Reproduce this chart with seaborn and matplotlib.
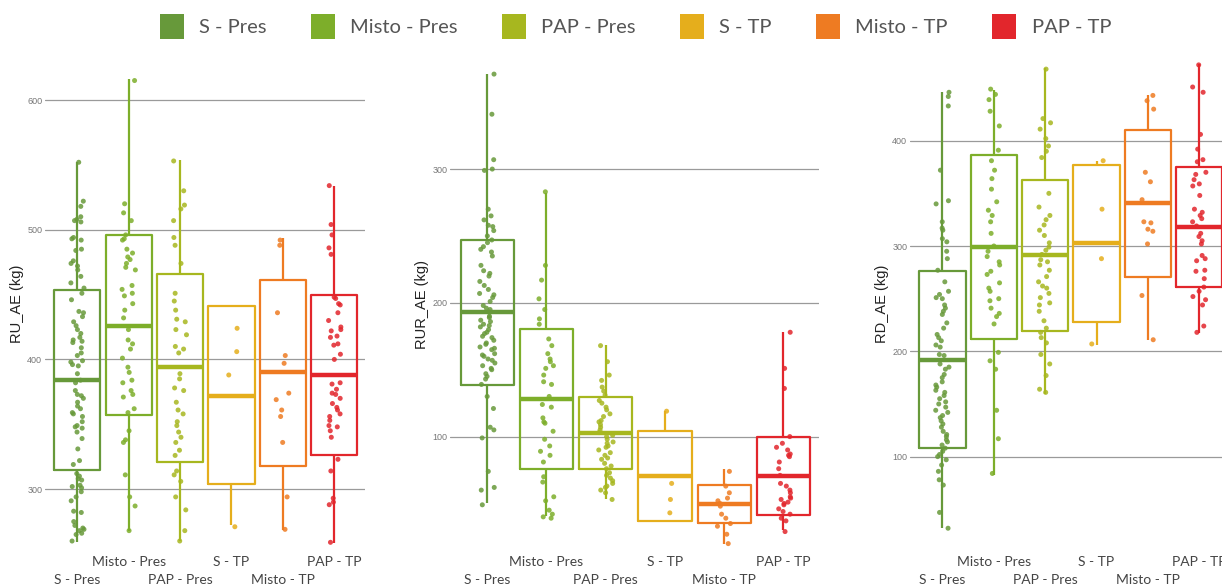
import numpy as np
import pandas as pd
import matplotlib
matplotlib.use("Agg")
import matplotlib.pyplot as plt
from matplotlib.patches import Patch
import seaborn as sns

groups = ["S - Pres", "Misto - Pres", "PAP - Pres", "S - TP", "Misto - TP", "PAP - TP"]
colors = ["#67993a", "#7dae2a", "#a7b71f", "#e5ae1c", "#ee7b22", "#e2262c"]

# RU_AE (kg) - individual points
ru_s_pres = [552, 522, 518, 510, 508, 507, 506, 494, 493, 492, 485, 484, 476, 474, 472, 469, 464,
             459, 455, 451, 446, 437, 436, 433, 429, 426, 423, 420, 417, 415, 414, 413, 409, 405,
             403, 399, 398, 396, 395, 389, 384, 382, 376, 373, 372, 370, 367, 364, 362, 359, 358,
             356, 352, 349, 348, 347, 344, 339, 331, 322, 319, 312, 310, 308, 307, 303, 302, 301,
             298, 294, 291, 283, 282, 275, 272, 270, 269, 268, 266, 265, 260]
ru_misto_pres = [615, 520, 513, 507, 496, 493, 492, 485, 482, 479, 477, 474, 471, 469, 457, 454,
                 451, 449, 443, 438, 432, 423, 415, 412, 408, 401, 394, 390, 384, 382, 376, 373,
                 371, 362, 359, 345, 338, 336, 311, 294, 287, 268]
ru_pap_pres = [553, 530, 519, 516, 507, 494, 488, 474, 451, 445, 438, 431, 429, 423, 419, 410, 408,
               405, 389, 385, 378, 376, 367, 361, 358, 352, 349, 344, 340, 336, 330, 326, 314, 311,
               306, 294, 284, 268, 260]
ru_s_tp = [424, 406, 388, 271]
ru_misto_tp = [492, 488, 436, 403, 397, 374, 369, 361, 356, 336, 294, 269]
ru_pap_tp = [534, 504, 496, 486, 481, 448, 447, 443, 442, 436, 430, 425, 423, 422, 418, 417, 412,
             411, 404, 400, 382, 381, 377, 374, 373, 370, 366, 363, 361, 358, 356, 353, 349, 348,
             345, 340, 323, 314, 293, 290, 288, 259]
# RU_AE box summary (min, q1, median, q3, max)
ru_min = [259.5, 268, 260, 272, 268.5, 258.6]
ru_q1 = [315, 357, 321, 304, 318, 326]
ru_med = [384, 426, 394, 372, 390, 388]
ru_q3 = [453.5, 496, 465.6, 441, 461, 450]
ru_max = [552, 616, 554, 441, 493.6, 533.7]

# RUR_AE (kg)
rur_s_pres = [371, 341, 307, 300, 299, 270, 265, 262, 258, 257, 254, 250, 247, 245, 242, 240, 238,
              235, 228, 224, 222, 220, 216, 213, 210, 207, 206, 204, 201, 198, 196, 195, 193, 190,
              189, 187, 186, 184, 183, 182, 180, 178, 177, 175, 174, 172, 170, 169, 167, 166, 165,
              162, 161, 160, 158, 157, 155, 153, 151, 150, 147, 145, 143, 139, 130, 121, 107, 105,
              99, 74, 62, 60, 49]
rur_misto_pres = [283, 228, 217, 203, 195, 188, 184, 173, 168, 162, 158, 156, 153, 151, 146, 141,
                  139, 130, 124, 122, 114, 111, 110, 104, 98, 93, 89, 86, 81, 70, 66, 55, 52, 45,
                  42, 40, 39]
rur_pap_pres = [168, 156, 146, 142, 137, 134, 131, 127, 125, 122, 120, 117, 115, 112, 111, 109, 107,
                105, 103, 101, 100, 98, 96, 95, 93, 92, 90, 88, 86, 84, 83, 80, 78, 76, 73, 71, 69,
                67, 65, 63, 62, 60, 58, 53]
rur_s_tp = [119, 65, 53, 43]
rur_misto_tp = [74, 63, 58, 54, 52, 50, 48, 42, 39, 35, 33, 27, 20]
rur_pap_tp = [178, 151, 136, 100, 95, 92, 90, 87, 86, 85, 81, 76, 71, 65, 63, 60, 58, 55, 54, 53,
              51, 50, 49, 46, 44, 42, 39, 37, 29]
rur_min = [50, 40.6, 53, 37.2, 20, 30]
rur_q1 = [138.6, 75.6, 75.6, 37.2, 35.7, 41.4]
rur_med = [193, 128, 103, 70.6, 49.6, 70.8]
rur_q3 = [247, 180.6, 129.8, 104.3, 63.8, 99.5]
rur_max = [371, 282, 168.7, 119.4, 75.8, 178.4]

# RD_AE (kg)
rd_s_pres = [446, 442, 433, 372, 343, 340, 323, 317, 315, 307, 304, 295, 288, 277, 266, 257, 254,
             251, 250, 244, 241, 238, 235, 227, 222, 216, 213, 210, 206, 204, 197, 196, 188, 185,
             183, 178, 175, 171, 168, 166, 163, 161, 158, 155, 152, 150, 147, 144, 142, 139, 137,
             134, 131, 128, 124, 121, 119, 116, 114, 111, 108, 105, 102, 100, 97, 92, 86, 78, 73,
             47, 32]
rd_misto_pres = [449, 444, 439, 428, 414, 391, 381, 372, 364, 354, 342, 334, 329, 323, 312, 300,
                 295, 290, 285, 282, 276, 273, 265, 260, 257, 250, 248, 241, 236, 233, 226, 199,
                 191, 183, 144, 117, 84]
rd_pap_pres = [468, 421, 417, 411, 402, 395, 390, 384, 350, 337, 329, 325, 320, 315, 310, 303, 299,
               296, 292, 287, 285, 282, 277, 271, 266, 262, 260, 255, 251, 246, 244, 238, 229, 222,
               218, 213, 208, 197, 188, 177, 164, 161]
rd_s_tp = [381, 335, 288, 207]
rd_misto_tp = [443, 438, 430, 370, 361, 344, 323, 322, 316, 314, 302, 253, 211]
rd_pap_tp = [472, 451, 446, 406, 392, 382, 380, 370, 368, 363, 359, 357, 348, 335, 332, 329, 326,
             323, 319, 312, 309, 305, 302, 291, 288, 286, 277, 276, 269, 261, 257, 252, 249, 244,
             224, 218]
rd_min = [32.5, 83, 159, 205.7, 210.7, 217.7]
rd_q1 = [108, 212, 219, 227.5, 271, 261.3]
rd_med = [191.7, 299.4, 291.5, 302.5, 340.5, 318.3]
rd_q3 = [276, 386.4, 363, 377, 410, 375]
rd_max = [446, 448, 468.7, 381, 443, 472.8]

sns.set_style("white")
plt.rcParams["font.family"] = ["Liberation Sans", "DejaVu Sans"]

fig = plt.figure(figsize=(12.22, 5.87), dpi=100)


def draw_panel(ax, points, stats, ylabel, yticks, ylim, label_x):
    pts = pd.DataFrame([(g, v) for g, vals in zip(groups, points) for v in vals],
                       columns=["group", "value"])
    box = pd.DataFrame([(g, s[i]) for i, g in enumerate(groups) for s in stats],
                       columns=["group", "value"])
    sns.boxplot(data=box, x="group", y="value", hue="group", order=groups, hue_order=groups,
                palette=colors, fill=False, whis=(0, 100), width=0.9, showcaps=False,
                linewidth=1.6, medianprops=dict(linewidth=3.2), legend=False, ax=ax)
    sns.stripplot(data=pts, x="group", y="value", hue="group", order=groups, hue_order=groups,
                  palette=colors, jitter=0.13, size=3.6, alpha=0.85, linewidth=0,
                  legend=False, ax=ax)
    ax.set_xlim(-0.63, 5.6)
    ax.set_ylim(*ylim)
    ax.set_yticks(yticks)
    ax.yaxis.grid(True, color="#9a9a9a", linewidth=0.9)
    ax.xaxis.grid(False)
    ax.set_axisbelow(True)
    sns.despine(ax=ax, left=True, bottom=True)
    ax.tick_params(axis="y", length=0, pad=2, labelsize=6.5, labelcolor="#777777")
    ax.tick_params(axis="x", length=0, pad=6)
    ax.set_xticks(range(len(groups)))
    labels = [g + "\n" if i % 2 else "\n" + g for i, g in enumerate(groups)]
    ax.set_xticklabels(labels, fontsize=10, color="#444444", family=["Lato", "DejaVu Sans"],
                       linespacing=1.55)
    ax.set_xlabel("")
    ax.set_ylabel(ylabel, fontsize=10.5, color="#222222")
    ax.yaxis.set_label_coords(label_x, 0.5)


ax1 = fig.add_axes([0.0368, 0.0664, 0.2619, 0.8313])
ax2 = fig.add_axes([0.3682, 0.0664, 0.302, 0.8313])
ax3 = fig.add_axes([0.7447, 0.0664, 0.2619, 0.8313])

draw_panel(ax1, [ru_s_pres, ru_misto_pres, ru_pap_pres, ru_s_tp, ru_misto_tp, ru_pap_tp],
           [ru_min, ru_q1, ru_med, ru_q3, ru_max], "RU_AE (kg)", [300, 400, 500, 600],
           (254.6, 630.8), -0.065)
draw_panel(ax2, [rur_s_pres, rur_misto_pres, rur_pap_pres, rur_s_tp, rur_misto_tp, rur_pap_tp],
           [rur_min, rur_q1, rur_med, rur_q3, rur_max], "RUR_AE (kg)", [100, 200, 300],
           (16.7, 381.5), -0.056)
draw_panel(ax3, [rd_s_pres, rd_misto_pres, rd_pap_pres, rd_s_tp, rd_misto_tp, rd_pap_tp],
           [rd_min, rd_q1, rd_med, rd_q3, rd_max], "RD_AE (kg)", [100, 200, 300, 400],
           (13.2, 476.6), -0.065)

handles = [Patch(facecolor=c, edgecolor="none", label=g) for g, c in zip(groups, colors)]
fig.legend(handles=handles, loc="center", bbox_to_anchor=(0.52, 0.955), ncol=6, frameon=False,
           handlelength=1.2, handleheight=1.5, handletextpad=0.75, columnspacing=2.2,
           prop={"family": ["Lato", "DejaVu Sans"], "size": 14.5}, labelcolor="#555555")

fig.savefig("out.png", dpi=100)
plt.close(fig)
